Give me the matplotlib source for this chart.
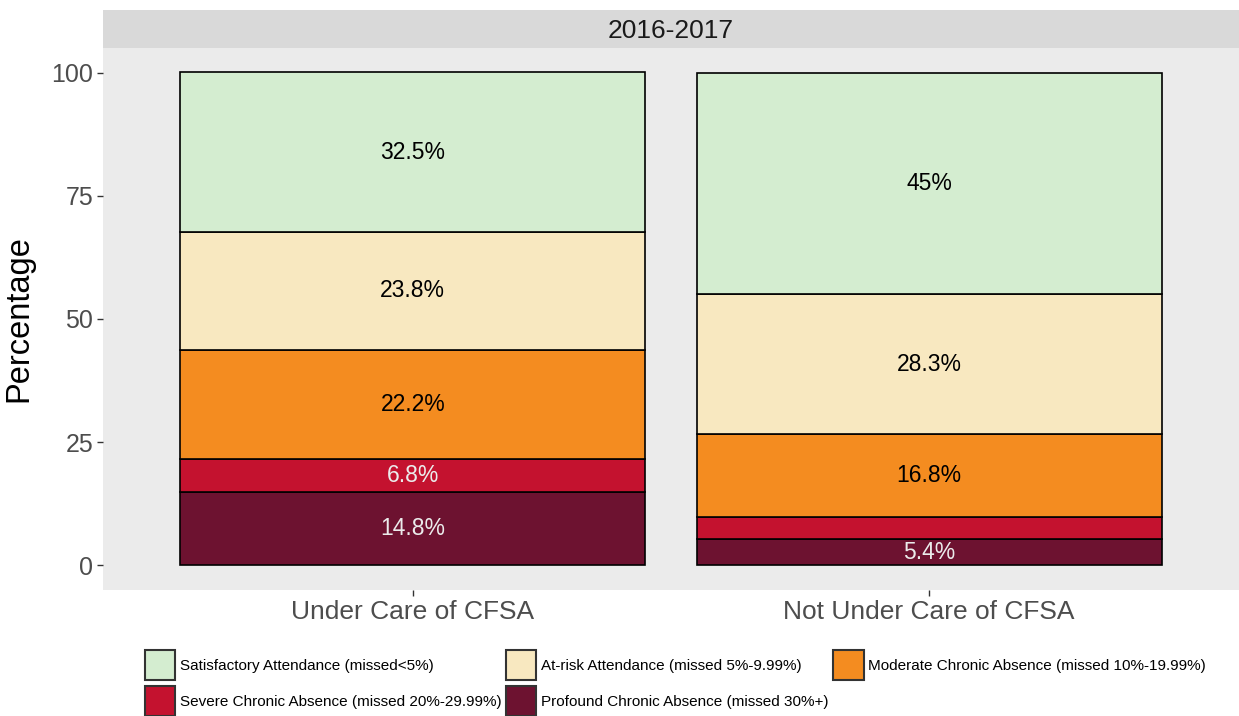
import numpy as np
import matplotlib
matplotlib.use('Agg')
import matplotlib.pyplot as plt
from matplotlib.patches import Patch

plt.rcParams['font.family'] = ['Liberation Sans', 'DejaVu Sans']

# ----- Data -----
groups = ["Under Care of CFSA", "Not Under Care of CFSA"]
categories = [
    "Profound Chronic Absence (missed 30%+)",
    "Severe Chronic Absence (missed 20%-29.99%)",
    "Moderate Chronic Absence (missed 10%-19.99%)",
    "At-risk Attendance (missed 5%-9.99%)",
    "Satisfactory Attendance (missed<5%)",
]
under_care = [14.8, 6.8, 22.2, 23.8, 32.5]
not_under_care = [5.4, 4.5, 16.8, 28.3, 45.0]
labels_under = ["14.8%", "6.8%", "22.2%", "23.8%", "32.5%"]
labels_not = ["5.4%", "", "16.8%", "28.3%", "45%"]
colors = ["#6d1230", "#c4122f", "#f48c20", "#f8e8c0", "#d4edd0"]
text_colors = ["#ebebeb", "#ebebeb", "black", "black", "black"]
year = "2016-2017"

fig = plt.figure(figsize=(12.39, 7.16), dpi=100)
ax = fig.add_axes([103 / 1239, 1 - 590 / 716, 1 - 103 / 1239, (590 - 48) / 716])
ax.set_facecolor("#ebebeb")

x = np.arange(1, len(groups) + 1)
values = np.array([under_care, not_under_care])
labels = [labels_under, labels_not]
bottoms = np.zeros(len(groups))
for k in range(len(categories)):
    ax.bar(x, values[:, k], bottom=bottoms, width=0.9, color=colors[k],
           edgecolor="black", linewidth=1.2, zorder=2)
    for i in range(len(groups)):
        lab = labels[i][k]
        if lab:
            ax.text(x[i], bottoms[i] + values[i, k] / 2, lab, ha="center", va="center",
                    fontsize=16.5, color=text_colors[k], zorder=3)
    bottoms += values[:, k]

ax.set_xlim(0.4, 2.6)
ax.set_ylim(-5, 105)
ax.set_xticks(x)
ax.set_xticklabels(groups, fontsize=19, color="#4d4d4d")
ax.set_yticks([0, 25, 50, 75, 100])
ax.set_yticklabels(["0", "25", "50", "75", "100"], fontsize=18, color="#4d4d4d")
ax.tick_params(axis="both", length=4, width=1, color="#333333")
ax.tick_params(axis="x", pad=3)
ax.tick_params(axis="y", pad=3)
for s in ax.spines.values():
    s.set_visible(False)
ax.set_ylabel("Percentage", fontsize=23.5, labelpad=12)

# strip on top
strip = fig.add_axes([103 / 1239, 1 - 48 / 716, 1 - 103 / 1239, 38 / 716])
strip.set_facecolor("#d9d9d9")
strip.set_xticks([])
strip.set_yticks([])
for s in strip.spines.values():
    s.set_visible(False)
strip.text(0.5, 0.45, year, ha="center", va="center", fontsize=19, color="#1a1a1a",
           transform=strip.transAxes)

# legend, row-wise order like ggplot
order = [4, 1, 3, 0, 2]
handles = [Patch(facecolor=colors[k], edgecolor="#333333", linewidth=1.5) for k in order]
fig.legend(handles, [categories[k] for k in order], ncol=3, loc="center",
           bbox_to_anchor=(0.545, 1 - 683 / 716), frameon=False, fontsize=11,
           handlelength=2.0, handleheight=2.55, columnspacing=0.3, handletextpad=0.3,
           labelspacing=0.45, borderpad=0)

fig.savefig("out.png", dpi=100)
